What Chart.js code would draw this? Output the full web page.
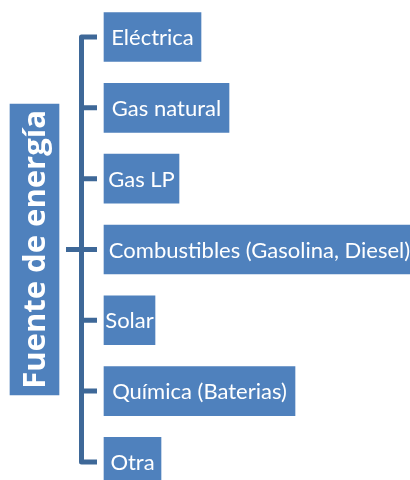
<!DOCTYPE html>
<html>
<head>
<meta charset="utf-8">
<script src="https://cdn.jsdelivr.net/npm/chart.js@4"></script>
<style>
	html, body { margin: 0; padding: 0; background: #fff; }
	#wrap { width: 410px; height: 480px; }
</style>
</head>
<body>
<div id="wrap"><canvas id="c" width="410" height="480"></canvas></div>
<script>
let rootLabel = 'Fuente de energía';
let categories = [
	'Eléctrica',
	'Gas natural',
	'Gas LP',
	'Combustibles (Gasolina, Diesel)',
	'Solar',
	'Química (Baterias)',
	'Otra'
];
// right edge of each box
let boxEnds = [202, 230, 180, 416, 156, 296, 162];
let boxStart = 103;

let boxColor = '#4F81BD';
let lineColor = '#3E6898';
let childFont = '22px Lato, sans-serif';
let rootFont = 'bold 31px "Open Sans", sans-serif';

// child boxes are floating bars, root is one tall bar in the middle row
let childData = categories.map((c, i) => ({x: [boxStart, boxEnds[i]], y: i}));
let rootData = [{x: [9, 60], y: (categories.length - 1) / 2}];

let treePlugin = {
	id: 'tree',
	beforeDatasetsDraw(chart) {
		let ctx = chart.ctx;
		let xs = chart.scales.x;
		let ys = chart.scales.y;
		let trunk = xs.getPixelForValue(81.5);
		let stubEnd = xs.getPixelForValue(97);
		let top = ys.getPixelForValue(0);
		let bottom = ys.getPixelForValue(categories.length - 1);
		ctx.save();
		ctx.strokeStyle = lineColor;
		ctx.lineWidth = 5;
		ctx.lineJoin = 'round';
		ctx.beginPath();
		ctx.moveTo(stubEnd, top);
		ctx.lineTo(trunk, top);
		ctx.lineTo(trunk, bottom);
		ctx.lineTo(stubEnd, bottom);
		for (let i = 1; i < categories.length - 1; i++) {
			let y = ys.getPixelForValue(i);
			ctx.moveTo(trunk, y);
			ctx.lineTo(stubEnd, y);
		}
		let mid = ys.getPixelForValue(rootData[0].y);
		ctx.moveTo(xs.getPixelForValue(66), mid);
		ctx.lineTo(trunk, mid);
		ctx.stroke();
		ctx.restore();
	},
	afterDatasetsDraw(chart) {
		let ctx = chart.ctx;
		ctx.save();
		ctx.fillStyle = '#ffffff';
		ctx.textBaseline = 'middle';
		ctx.textAlign = 'center';
		ctx.font = childFont;
		chart.getDatasetMeta(0).data.forEach((bar, i) => {
			ctx.fillText(categories[i], (bar.base + bar.x) / 2, bar.y + 1);
		});
		let root = chart.getDatasetMeta(1).data[0];
		ctx.translate((root.base + root.x) / 2 + 2, root.y);
		ctx.rotate(-Math.PI / 2);
		ctx.font = rootFont;
		ctx.fillText(rootLabel, 0, 0);
		ctx.restore();
	}
};

new Chart(document.getElementById('c'), {
	type: 'bar',
	data: {
		datasets: [
			{
				data: childData,
				backgroundColor: boxColor,
				borderColor: 'rgba(255,255,255,0.7)',
				borderWidth: 1,
				borderSkipped: false,
				barThickness: 51
			},
			{
				data: rootData,
				backgroundColor: boxColor,
				borderColor: 'rgba(255,255,255,0.7)',
				borderWidth: 1,
				borderSkipped: false,
				barThickness: 293
			}
		]
	},
	options: {
		indexAxis: 'y',
		responsive: false,
		animation: false,
		grouped: false,
		layout: {padding: 0},
		plugins: {
			legend: {display: false},
			tooltip: {enabled: false}
		},
		scales: {
			x: {type: 'linear', min: 0, max: 410, offset: false, display: false},
			y: {type: 'linear', min: -0.522, max: 6.255, offset: false, reverse: true, display: false}
		}
	},
	plugins: [treePlugin]
});
</script>
</body>
</html>
